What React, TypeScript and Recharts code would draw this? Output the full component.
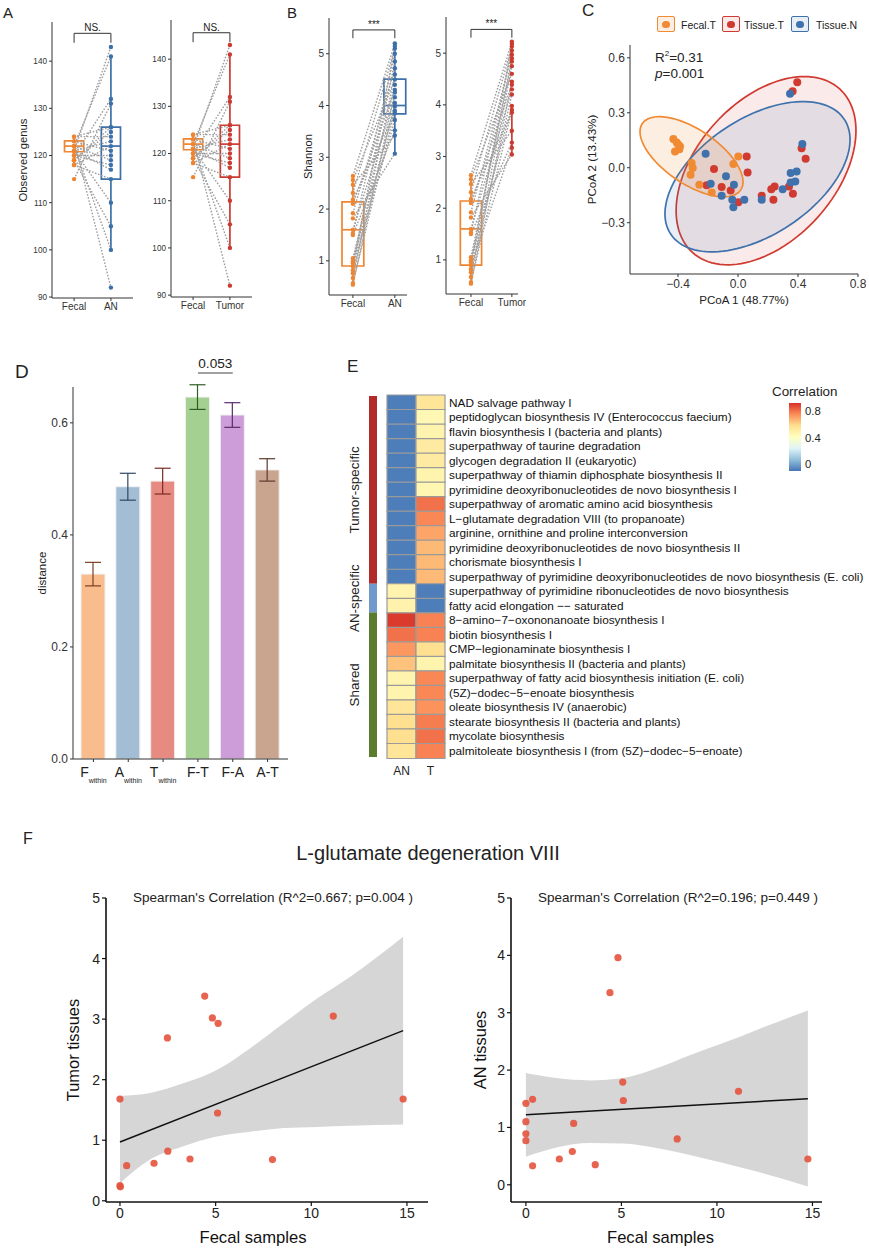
import React from "react";
import {
  ScatterChart,
  Scatter,
  XAxis,
  YAxis,
  ReferenceArea,
  ReferenceLine,
  BarChart,
  Bar,
  ErrorBar,
  ComposedChart,
  Area,
  Line,
  Cell,
} from "recharts";

const FONT = "'Liberation Sans', Arial, Helvetica, sans-serif";
const INK = "#222222";
const AXIS = "#333333";

const ORANGE = "#EE8532";
const BLUE = "#3D6FA9";
const RED = "#CB3A30";

// ---------- A: observed genus (paired) ----------
const pairAN = ["Fecal", "AN"];
const pairTumor = ["Fecal", "Tumor"];
const obsTicks = [90, 100, 110, 120, 130, 140];
const obsFecal = [121, 122, 120, 115, 124, 119, 121, 118, 122, 120, 118, 121, 119, 122, 123, 123, 120, 124, 121, 119];
const obsAN = [143, 141, 132, 131, 126, 125, 123, 122, 119, 118, 115, 110, 105, 100, 92, 121, 120, 124, 117, 126];
const obsTumor = [143, 141, 132, 131, 126, 125, 123, 122, 119, 118, 115, 110, 105, 100, 92, 121, 120, 124, 117, 126];
// whisker low, q1, median, q3, whisker high
const obsBoxFecal = [118, 120.8, 122, 123.1, 124];
const obsBoxAN = [100, 115, 122, 126, 141];
const obsBoxTumor = [100, 115, 122, 126, 141];

// ---------- B: Shannon (paired) ----------
const shTicks = [1, 2, 3, 4, 5];
const shFecal = [2.64, 2.56, 2.47, 2.31, 2.18, 2.1, 1.92, 1.82, 1.6, 1.53, 1.5, 1.05, 0.99, 0.95, 0.89, 0.82, 0.76, 0.67, 0.57, 0.54];
const shAN = [5.2, 4.5, 3.42, 5.1, 3.85, 4.3, 4.72, 3.07, 4.16, 5.0, 3.52, 4.4, 3.98, 4.85, 3.72, 5.15, 4.05, 4.6, 3.9, 4.25];
const shTumor = [5.22, 4.6, 3.5, 5.13, 3.85, 4.39, 4.97, 3.04, 4.3, 5.05, 3.27, 4.84, 3.98, 4.9, 3.17, 5.18, 4.2, 4.75, 3.9, 4.45];
const shBoxFecal = [0.54, 0.9, 1.6, 2.14, 2.64];
const shBoxAN = [3.07, 3.84, 4.0, 4.51, 5.2];
const shBoxTumor = [3.04, 3.89, 4.38, 4.88, 5.22];

// ---------- C: PCoA ----------
const pcoaFecal = [[-0.431, 0.157], [-0.409, 0.138], [-0.387, 0.117], [-0.42, 0.089], [-0.391, 0.101], [-0.4, 0.128], [-0.309, 0.026], [-0.302, -0.001], [-0.316, -0.038], [-0.258, -0.093], [-0.175, -0.135], [-0.031, 0.02], [0.002, 0.062]];
const pcoaTumor = [[0.395, 0.466], [0.364, 0.417], [0.424, 0.107], [0.451, 0.049], [0.366, -0.142], [0.34, -0.102], [0.244, -0.102], [0.222, -0.117], [0.236, -0.175], [0.158, -0.153], [0.064, -0.026], [0.058, 0.062], [0.002, -0.188], [-0.049, -0.124], [-0.109, -0.105], [-0.16, -0.007], [-0.209, -0.096]];
const pcoaNormal = [[0.347, 0.404], [0.429, 0.129], [0.351, -0.029], [0.391, -0.02], [0.382, -0.075], [0.351, -0.08], [0.298, -0.117], [0.158, -0.175], [0.042, -0.175], [-0.027, -0.093], [-0.08, -0.047], [-0.182, -0.087], [-0.216, 0.077], [-0.109, -0.153], [-0.031, -0.215], [-0.038, -0.175]];
const groupsC = ["Fecal.T", "Tissue.T", "Tissue.N"];
const colorsC = ["#F08A33", "#D03A30", "#3F72AD"];
const fillsC = ["rgba(240,138,51,0.14)", "rgba(208,58,48,0.10)", "rgba(63,114,173,0.12)"];
// confidence ellipses: centre and two conjugate semi-axes (data units)
const ellCentre = [[-0.31, 0.06], [0.187, -0.016], [0.13, -0.049]];
const ellAxisU = [[0.328, -0.181], [0.491, 0.446], [0.579, 0.313]];
const ellAxisV = [[0.101, 0.123], [-0.344, 0.255], [-0.213, 0.265]];

// ---------- D: distances ----------
const distKeys = ["F_within", "A_within", "T_within", "F-T", "F-A", "A-T"];
const distMain = ["F", "A", "T", "F-T", "F-A", "A-T"];
const distSub = ["within", "within", "within", "", "", ""];
const distMean = [0.33, 0.486, 0.496, 0.646, 0.614, 0.516];
const distErr = [0.021, 0.024, 0.023, 0.022, 0.022, 0.02];
const distFill = ["#F9BC8D", "#A3BDD5", "#E78A82", "#A4D192", "#CD9DDA", "#C9A590"];
const distErrColor = ["#7B3F22", "#2E4863", "#7A2B24", "#2F5E24", "#5B2C68", "#5C3B2C"];

// ---------- E: heatmap ----------
const pathways = [
  "NAD salvage pathway I",
  "peptidoglycan biosynthesis IV (Enterococcus faecium)",
  "flavin biosynthesis I (bacteria and plants)",
  "superpathway of taurine degradation",
  "glycogen degradation II (eukaryotic)",
  "superpathway of thiamin diphosphate biosynthesis II",
  "pyrimidine deoxyribonucleotides de novo biosynthesis I",
  "superpathway of aromatic amino acid biosynthesis",
  "L\u2212glutamate degradation VIII (to propanoate)",
  "arginine, ornithine and proline interconversion",
  "pyrimidine deoxyribonucleotides de novo biosynthesis II",
  "chorismate biosynthesis I",
  "superpathway of pyrimidine deoxyribonucleotides de novo biosynthesis (E. coli)",
  "superpathway of pyrimidine ribonucleotides de novo biosynthesis",
  "fatty acid elongation \u2212\u2212 saturated",
  "8\u2212amino\u22127\u2212oxononanoate biosynthesis I",
  "biotin biosynthesis I",
  "CMP\u2212legionaminate biosynthesis I",
  "palmitate biosynthesis II (bacteria and plants)",
  "superpathway of fatty acid biosynthesis initiation (E. coli)",
  "(5Z)\u2212dodec\u22125\u2212enoate biosynthesis",
  "oleate biosynthesis IV (anaerobic)",
  "stearate biosynthesis II (bacteria and plants)",
  "mycolate biosynthesis",
  "palmitoleate biosynthesis I (from (5Z)\u2212dodec\u22125\u2212enoate)",
];
const heatCols = ["AN", "T"];
const corrAN = [-0.08, -0.08, -0.08, -0.08, -0.08, -0.08, -0.08, -0.08, -0.08, -0.08, -0.08, -0.08, -0.08, 0.47, 0.48, 0.9, 0.8, 0.73, 0.64, 0.47, 0.47, 0.55, 0.58, 0.58, 0.55];
const corrT = [0.55, 0.45, 0.47, 0.52, 0.52, 0.47, 0.46, 0.8, 0.76, 0.7, 0.66, 0.66, 0.66, -0.08, -0.08, 0.77, 0.77, 0.58, 0.47, 0.76, 0.76, 0.74, 0.78, 0.8, 0.77];
const groupNames = ["Tumor-specific", "AN-specific", "Shared"];
const groupSizes = [13, 2, 10];
const groupColors = ["#B22A29", "#6E9BCB", "#5B7B2E"];
const rampColors = ["#4575B4", "#91BFDB", "#E0F3F8", "#FFFFBF", "#FEE090", "#FC8D59", "#D73027"];
const CORR_MIN = -0.1;
const CORR_MAX = 0.92;
const corrTicks = [0, 0.4, 0.8];

// ---------- F: correlation scatter ----------
const fecalT = [0, 0, 0.02, 0.35, 1.78, 2.5, 2.48, 3.66, 4.43, 4.83, 5.13, 5.1, 7.97, 11.15, 14.8];
const tumorT = [1.68, 0.25, 0.23, 0.58, 0.62, 0.82, 2.69, 0.69, 3.38, 3.02, 2.93, 1.45, 0.68, 3.05, 1.68];
const fitTx = [0, 14.8];
const fitTy = [0.97, 2.81];
const bandTx = [0, 1.57, 3.31, 5.06, 6.81, 8.55, 10.3, 12.04, 14.8];
const bandTlo = [0.29, 0.68, 0.9, 1.06, 1.14, 1.2, 1.22, 1.24, 1.26];
const bandThi = [1.73, 1.78, 1.94, 2.16, 2.52, 2.93, 3.34, 3.7, 4.36];

const fecalN = [0, 0, 0, 0, 0.35, 0.35, 1.75, 2.43, 2.5, 3.63, 4.4, 4.82, 5.07, 5.1, 7.92, 11.13, 14.76];
const anN = [1.42, 1.1, 0.89, 0.77, 1.49, 0.33, 0.45, 0.58, 1.07, 0.35, 3.35, 3.96, 1.79, 1.47, 0.8, 1.63, 0.45];
const fitNx = [0, 14.76];
const fitNy = [1.22, 1.5];
const bandNx = [0, 1.6, 3.35, 5.09, 6.84, 8.58, 10.33, 12.08, 14.76];
const bandNlo = [0.49, 0.65, 0.73, 0.72, 0.64, 0.52, 0.38, 0.23, -0.03];
const bandNhi = [1.95, 1.86, 1.82, 1.86, 2.03, 2.26, 2.47, 2.7, 3.04];
const fTicksX = [0, 5, 10, 15];
const fTicksY = [0, 1, 2, 3, 4, 5];

// ---------- helpers ----------
function TextAt({ x, y, size, anchor = "start", children, style }: any) {
  const tx = anchor === "middle" ? "-50%" : anchor === "end" ? "-100%" : "0";
  return (
    <div
      style={{
        position: "absolute",
        left: x,
        top: y,
        transform: `translate(${tx}, -50%)`,
        fontSize: size,
        lineHeight: 1,
        whiteSpace: "nowrap",
        color: INK,
        ...style,
      }}
    >
      {children}
    </div>
  );
}

function hexToRgb(h: string) {
  return [parseInt(h.slice(1, 3), 16), parseInt(h.slice(3, 5), 16), parseInt(h.slice(5, 7), 16)];
}

function corrColor(v: number) {
  const t = Math.max(0, Math.min(1, (v - CORR_MIN) / (CORR_MAX - CORR_MIN))) * (rampColors.length - 1);
  const i = Math.min(rampColors.length - 2, Math.floor(t));
  const f = t - i;
  const a = hexToRgb(rampColors[i]);
  const b = hexToRgb(rampColors[i + 1]);
  const c = a.map((ai, k) => Math.round(ai + (b[k] - ai) * f));
  return `rgb(${c[0]},${c[1]},${c[2]})`;
}

function ellipsePoints(k: number) {
  const pts = [];
  const [cx, cy] = ellCentre[k];
  const u = ellAxisU[k];
  const v = ellAxisV[k];
  for (let j = 0; j <= 120; j++) {
    const t = (j / 120) * Math.PI * 2;
    pts.push({ x: cx + u[0] * Math.cos(t) + v[0] * Math.sin(t), y: cy + u[1] * Math.cos(t) + v[1] * Math.sin(t) });
  }
  return pts;
}

const signed = (v: number) => (v < 0 ? "\u2212" : "") + Math.abs(v).toFixed(1);

const noShape = () => <g />;

// ---------- paired box + line panel (A, B) ----------
function PairedPanel(p: any) {
  const pairs = p.before.map((b: number, i: number) => [
    { x: 1, y: b },
    { x: 2, y: p.after[i] },
  ]);
  const boxParts = (s: number[], xc: number, color: string, key: string) => [
    <ReferenceLine key={key + "lo"} segment={[{ x: xc, y: s[0] }, { x: xc, y: s[1] }]} stroke={color} strokeWidth={1.7} />,
    <ReferenceLine key={key + "hi"} segment={[{ x: xc, y: s[3] }, { x: xc, y: s[4] }]} stroke={color} strokeWidth={1.7} />,
    <ReferenceArea key={key + "box"} x1={xc - p.boxW / 2} x2={xc + p.boxW / 2} y1={s[1]} y2={s[3]} fill="none" stroke={color} strokeWidth={1.7} />,
    <ReferenceLine key={key + "med"} segment={[{ x: xc - p.boxW / 2, y: s[2] }, { x: xc + p.boxW / 2, y: s[2] }]} stroke={color} strokeWidth={1.7} />,
  ];
  return (
    <div style={{ position: "absolute", left: p.left, top: 0 }}>
      <ScatterChart width={p.width} height={p.height} margin={{ top: p.mTop, right: p.mRight, left: 0, bottom: 0 }}>
        <XAxis
          type="number"
          dataKey="x"
          domain={p.xDomain}
          allowDataOverflow
          ticks={[1, 2]}
          interval={0}
          tickFormatter={(v: number) => p.labels[v - 1]}
          height={p.xH}
          tickSize={3}
          axisLine={{ stroke: AXIS }}
          tickLine={{ stroke: AXIS }}
          tick={{ fontSize: 10, fill: AXIS }}
        />
        <YAxis
          type="number"
          dataKey="y"
          domain={p.yDomain}
          allowDataOverflow
          ticks={p.yTicks}
          interval={0}
          width={p.yW}
          tickSize={3}
          axisLine={{ stroke: AXIS }}
          tickLine={{ stroke: AXIS }}
          tick={{ fontSize: p.tickFs, fill: AXIS }}
          label={
            p.yLabel
              ? { value: p.yLabel, angle: -90, position: "center", dx: p.yLabelDx, fontSize: p.yLabelFs, fill: INK }
              : undefined
          }
        />
        {boxParts(p.boxBefore, 1, p.cBefore, "b")}
        {boxParts(p.boxAfter, 2, p.cAfter, "a")}
        {pairs.map((pp: any, i: number) => (
          <Scatter
            key={"pair" + i}
            data={pp}
            isAnimationActive={false}
            line={{ stroke: "#9E9E9E", strokeWidth: 1.4, strokeDasharray: "1.6 1.6" }}
            lineType="joint"
            shape={noShape}
          />
        ))}
        <Scatter
          data={p.before.map((y: number) => ({ x: 1, y }))}
          isAnimationActive={false}
          shape={(s: any) => <circle cx={s.cx} cy={s.cy} r={2.2} fill={p.cBefore} />}
        />
        <Scatter
          data={p.after.map((y: number) => ({ x: 2, y }))}
          isAnimationActive={false}
          shape={(s: any) => <circle cx={s.cx} cy={s.cy} r={2.2} fill={p.cAfter} />}
        />
        <ReferenceLine
          segment={[{ x: 1, y: p.sigY }, { x: 2, y: p.sigY }]}
          stroke={AXIS}
          strokeWidth={1}
          label={{ value: p.sig, position: "top", fontSize: p.sigFs, fill: INK, offset: 2 }}
        />
        <ReferenceLine segment={[{ x: 1, y: p.sigY }, { x: 1, y: p.sigDrop }]} stroke={AXIS} strokeWidth={1} />
        <ReferenceLine segment={[{ x: 2, y: p.sigY }, { x: 2, y: p.sigDrop }]} stroke={AXIS} strokeWidth={1} />
      </ScatterChart>
    </div>
  );
}

// ---------- D tick ----------
function DistTick(props: any) {
  const { x, y, payload } = props;
  const i = distKeys.indexOf(payload.value);
  return (
    <text x={x} y={y + 13} textAnchor="middle" fontSize={14} fill={INK}>
      <tspan>{distMain[i]}</tspan>
      {distSub[i] ? (
        <tspan fontSize={7} dy={6}>
          {distSub[i]}
        </tspan>
      ) : null}
    </text>
  );
}

// ---------- E row label (no wrapping) ----------
function PathTick(props: any) {
  const { x, y, payload } = props;
  return (
    <text x={x} y={y} dy="0.36em" textAnchor="start" fontSize={11.8} fill="#111">
      {payload.value}
    </text>
  );
}

// ---------- F panel ----------
function CorrPanel(p: any) {
  const rows = p.bandX.map((x: number, i: number) => {
    const fi = p.fitX.indexOf(x);
    return { x, band: [p.bandLo[i], p.bandHi[i]], fit: fi >= 0 ? p.fitY[fi] : null };
  });
  const pts = p.xs.map((x: number, i: number) => ({ x, y: p.ys[i] }));
  return (
    <div style={{ position: "absolute", left: p.left, top: 880 }}>
      <ComposedChart width={p.width} height={368} data={rows} margin={{ top: 18, right: 8, left: 0, bottom: 0 }}>
        <XAxis
          type="number"
          dataKey="x"
          domain={p.xDomain}
          allowDataOverflow
          ticks={fTicksX}
          interval={0}
          height={46}
          tickSize={4}
          axisLine={{ stroke: "#111", strokeWidth: 1.6 }}
          tickLine={{ stroke: "#111", strokeWidth: 1.2 }}
          tick={{ fontSize: 14, fill: INK }}
          label={{ value: "Fecal samples", position: "center", dy: 12, dx: p.xLabelDx, fontSize: 16.6, fill: "#111" }}
        />
        <YAxis
          type="number"
          domain={p.yDomain}
          allowDataOverflow
          ticks={fTicksY}
          interval={0}
          width={p.yW}
          tickSize={4}
          axisLine={{ stroke: "#111", strokeWidth: 1.6 }}
          tickLine={{ stroke: "#111", strokeWidth: 1.2 }}
          tick={{ fontSize: 14, fill: INK }}
          label={{ value: p.yLabel, angle: -90, position: "center", dx: p.yLabelDx, fontSize: 16.4, fill: "#111" }}
        />
        <Area
          type="monotone"
          dataKey="band"
          fill="#D6D6D6"
          fillOpacity={1}
          stroke="none"
          isAnimationActive={false}
          connectNulls
        />
        <Line type="linear" dataKey="fit" stroke="#111" strokeWidth={1.5} dot={false} connectNulls isAnimationActive={false} />
        <Scatter
          data={pts}
          dataKey="y"
          isAnimationActive={false}
          shape={(s: any) => <circle cx={s.cx} cy={s.cy} r={3.6} fill="#E3533D" fillOpacity={0.9} />}
        />
      </ComposedChart>
    </div>
  );
}

// ---------- main ----------
export default function App() {
  const distRows = distKeys.map((k, i) => ({ key: k, ["v" + i]: distMean[i], ["e" + i]: distErr[i] }));
  const heatRows = pathways.map((name, i) => ({ name, a: 1, b: 1, an: corrAN[i], t: corrT[i] }));
  const groupRow: any = { g: "groups" };
  groupSizes.forEach((s, i) => (groupRow["s" + i] = s));
  const pcoaSets = [pcoaFecal, pcoaTumor, pcoaNormal];

  const groupLabel = (name: string) => (lp: any) => {
    const vb = lp.viewBox && lp.viewBox.height != null ? lp.viewBox : lp;
    const cx = vb.x - 14;
    const cy = vb.y + vb.height / 2;
    return (
      <text
        x={cx}
        y={cy}
        transform={`rotate(-90 ${cx} ${cy})`}
        textAnchor="middle"
        dominantBaseline="central"
        fontSize={13.4}
        fill={INK}
      >
        {name}
      </text>
    );
  };

  return (
    <div
      style={{
        position: "absolute",
        left: 0,
        top: 0,
        width: 869,
        height: 1250,
        background: "#fff",
        fontFamily: FONT,
        color: INK,
        overflow: "hidden",
      }}
    >
      {/* panel letters */}
      <TextAt x={3} y={12} size={15}>A</TextAt>
      <TextAt x={287} y={12} size={15}>B</TextAt>
      <TextAt x={582} y={10} size={17}>C</TextAt>
      <TextAt x={15} y={371} size={19}>D</TextAt>
      <TextAt x={347} y={366} size={17}>E</TextAt>
      <TextAt x={23} y={839} size={16}>F</TextAt>

      {/* A */}
      <PairedPanel
        left={0} width={140} height={325} mTop={22} mRight={7} yW={52} xH={27}
        xDomain={[0.4, 2.6]} yDomain={[89.8, 148.3]} yTicks={obsTicks} tickFs={8.2}
        before={obsFecal} after={obsAN} cBefore={ORANGE} cAfter={BLUE}
        boxBefore={obsBoxFecal} boxAfter={obsBoxAN} boxW={0.52} labels={pairAN}
        sig="NS." sigY={145.9} sigDrop={143.9} sigFs={10}
        yLabel="Observed genus" yLabelDx={-3} yLabelFs={11.3}
      />
      <PairedPanel
        left={119} width={140} height={325} mTop={20} mRight={7} yW={52} xH={28}
        xDomain={[0.4, 2.6]} yDomain={[89.6, 148.3]} yTicks={obsTicks} tickFs={8.2}
        before={obsFecal} after={obsTumor} cBefore={ORANGE} cAfter={RED}
        boxBefore={obsBoxFecal} boxAfter={obsBoxTumor} boxW={0.52} labels={pairTumor}
        sig="NS." sigY={145.6} sigDrop={143.6} sigFs={10}
      />

      {/* B */}
      <PairedPanel
        left={289} width={123} height={320} mTop={18} mRight={5} yW={40} xH={25}
        xDomain={[0.43, 2.29]} yDomain={[0.34, 5.69]} yTicks={shTicks} tickFs={10}
        before={shFecal} after={shAN} cBefore={ORANGE} cAfter={BLUE}
        boxBefore={shBoxFecal} boxAfter={shBoxAN} boxW={0.52} labels={pairAN}
        sig="***" sigY={5.46} sigDrop={5.3} sigFs={10}
        yLabel="Shannon" yLabelDx={-1} yLabelFs={11.2}
      />
      <PairedPanel
        left={416} width={127} height={320} mTop={17} mRight={25} yW={30} xH={26}
        xDomain={[0.39, 2.15]} yDomain={[0.34, 5.7]} yTicks={shTicks} tickFs={10}
        before={shFecal} after={shTumor} cBefore={ORANGE} cAfter={RED}
        boxBefore={shBoxFecal} boxAfter={shBoxTumor} boxW={0.52} labels={pairTumor}
        sig="***" sigY={5.46} sigDrop={5.3} sigFs={10}
      />

      {/* C legend */}
      {groupsC.map((g, i) => {
        const bx = [657, 722, 791][i];
        const tx = [681, 744, 816][i];
        return (
          <React.Fragment key={g}>
            <div
              style={{
                position: "absolute",
                left: bx,
                top: 16,
                width: 16,
                height: 14,
                border: `1.8px solid ${colorsC[i]}`,
                borderRadius: 2,
                background: fillsC[i],
              }}
            >
              <div
                style={{
                  position: "absolute",
                  left: 4,
                  top: 3.5,
                  width: 7.5,
                  height: 7.5,
                  borderRadius: "50%",
                  background: colorsC[i],
                }}
              />
            </div>
            <TextAt x={tx} y={25} size={10.5}>{g}</TextAt>
          </React.Fragment>
        );
      })}
      <TextAt x={655} y={57} size={13.5}>
        R<sup style={{ fontSize: 8, verticalAlign: "6px" }}>2</sup>=0.31
      </TextAt>
      <TextAt x={655} y={74} size={13.5}>
        <i>p</i>=0.001
      </TextAt>

      {/* C */}
      <div style={{ position: "absolute", left: 585, top: 0 }}>
        <ScatterChart width={281} height={306} margin={{ top: 45, right: 8, left: 0, bottom: 0 }}>
          <XAxis
            type="number"
            dataKey="x"
            domain={[-0.72, 0.8]}
            allowDataOverflow
            ticks={[-0.4, 0, 0.4, 0.8]}
            interval={0}
            tickFormatter={signed}
            height={32}
            tickSize={3}
            axisLine={{ stroke: AXIS }}
            tickLine={{ stroke: AXIS }}
            tick={{ fontSize: 12, fill: AXIS }}
            label={{ value: "PCoA 1 (48.77%)", position: "center", dy: 10, fontSize: 11.6, fill: INK }}
          />
          <YAxis
            type="number"
            dataKey="y"
            domain={[-0.58, 0.67]}
            allowDataOverflow
            ticks={[-0.3, 0, 0.3, 0.6]}
            interval={0}
            tickFormatter={signed}
            width={45}
            tickSize={3}
            axisLine={{ stroke: AXIS }}
            tickLine={{ stroke: AXIS }}
            tick={{ fontSize: 12, fill: AXIS }}
            label={{ value: "PCoA 2 (13.43%)", angle: -90, position: "center", dx: -15.5, fontSize: 11.6, fill: INK }}
          />
          {[1, 2, 0].map((k) => (
            <Scatter
              key={"ell" + k}
              data={ellipsePoints(k)}
              isAnimationActive={false}
              line={{ stroke: colorsC[k], strokeWidth: 1.7, fill: fillsC[k] }}
              lineType="joint"
              shape={noShape}
            />
          ))}
          {[1, 2, 0].map((k) => (
            <Scatter
              key={"pts" + k}
              data={pcoaSets[k].map(([x, y]) => ({ x, y }))}
              isAnimationActive={false}
              shape={(s: any) => <circle cx={s.cx} cy={s.cy} r={4} fill={colorsC[k]} />}
            />
          ))}
        </ScatterChart>
      </div>

      {/* D */}
      <div style={{ position: "absolute", left: 28, top: 330 }}>
        <BarChart width={270} height={459} data={distRows} margin={{ top: 57, right: 10, left: 0, bottom: 0 }} barSize={24}>
          <XAxis
            dataKey="key"
            type="category"
            height={30}
            interval={0}
            padding={{ left: 3, right: 3 }}
            tickSize={3}
            axisLine={{ stroke: AXIS }}
            tickLine={{ stroke: AXIS }}
            tick={<DistTick />}
          />
          <YAxis
            type="number"
            domain={[0, 0.664]}
            allowDataOverflow
            ticks={[0, 0.2, 0.4, 0.6]}
            interval={0}
            tickFormatter={(v: number) => v.toFixed(1)}
            width={45}
            tickSize={3}
            axisLine={{ stroke: AXIS }}
            tickLine={{ stroke: AXIS }}
            tick={{ fontSize: 12, fill: AXIS }}
            label={{ value: "distance", angle: -90, position: "center", dx: -8.5, fontSize: 11.5, fill: INK }}
          />
          {distKeys.map((k, i) => (
            <Bar key={k} dataKey={"v" + i} stackId="d" fill={distFill[i]} stroke="#F0F0F0" strokeWidth={1} isAnimationActive={false}>
              <ErrorBar dataKey={"e" + i} width={8} stroke={distErrColor[i]} strokeWidth={1.2} direction="y" />
            </Bar>
          ))}
          <ReferenceLine
            segment={[{ x: "F-T", y: 0.689 }, { x: "F-A", y: 0.689 }]}
            stroke="#444"
            strokeWidth={1.2}
            ifOverflow="visible"
            label={{ value: "0.053", position: "top", fontSize: 13.6, fill: INK, offset: 5 }}
          />
        </BarChart>
      </div>

      {/* E group strip */}
      <div style={{ position: "absolute", left: 340, top: 391 }}>
        <BarChart width={40} height={371} data={[groupRow]} margin={{ top: 5, right: 3, left: 29, bottom: 5 }} barCategoryGap={0}>
          <XAxis dataKey="g" hide />
          <YAxis hide reversed domain={[0, 25]} allowDataOverflow />
          {groupNames.map((n, i) => (
            <Bar key={n} dataKey={"s" + i} stackId="g" fill={groupColors[i]} isAnimationActive={false} label={groupLabel(n)} />
          ))}
        </BarChart>
      </div>

      {/* E heatmap */}
      <div style={{ position: "absolute", left: 380, top: 390 }}>
        <BarChart
          layout="vertical"
          width={485}
          height={388}
          data={heatRows}
          margin={{ top: 5, right: 0, left: 7, bottom: 0 }}
          barCategoryGap={0}
        >
          <XAxis
            type="number"
            domain={[0, 2]}
            ticks={[0.5, 1.5]}
            interval={0}
            tickFormatter={(v: number) => (v < 1 ? heatCols[0] : heatCols[1])}
            axisLine={false}
            tickLine={false}
            height={20}
            tick={{ fontSize: 12, fill: INK }}
          />
          <YAxis
            type="category"
            dataKey="name"
            orientation="right"
            width={420}
            interval={0}
            axisLine={false}
            tickLine={false}
            tickSize={2}
            tickMargin={2}
            tick={<PathTick />}
          />
          <Bar dataKey="a" stackId="h" stroke="#9A9A9A" strokeWidth={1.2} isAnimationActive={false}>
            {heatRows.map((r, i) => (
              <Cell key={"an" + i} fill={corrColor(r.an)} />
            ))}
          </Bar>
          <Bar dataKey="b" stackId="h" stroke="#9A9A9A" strokeWidth={1.2} isAnimationActive={false}>
            {heatRows.map((r, i) => (
              <Cell key={"t" + i} fill={corrColor(r.t)} />
            ))}
          </Bar>
        </BarChart>
      </div>

      {/* E colour bar */}
      <TextAt x={772} y={392} size={13.4}>Correlation</TextAt>
      <div style={{ position: "absolute", left: 785, top: 398 }}>
        <BarChart width={60} height={78} data={[{ k: "c", r: [CORR_MIN, CORR_MAX] }]} margin={{ top: 5, right: 0, left: 4, bottom: 5 }} barCategoryGap={0}>
          <defs>
            <linearGradient id="corrGrad" x1="0" y1="1" x2="0" y2="0">
              {rampColors.map((c, i) => (
                <stop key={c} offset={`${(i / (rampColors.length - 1)) * 100}%`} stopColor={c} />
              ))}
            </linearGradient>
          </defs>
          <XAxis dataKey="k" hide />
          <YAxis
            orientation="right"
            type="number"
            domain={[CORR_MIN, CORR_MAX]}
            allowDataOverflow
            ticks={corrTicks}
            interval={0}
            tickFormatter={(v: number) => String(v)}
            width={44}
            axisLine={false}
            tickLine={false}
            tickSize={2}
            tickMargin={2}
            tick={{ fontSize: 11.3, fill: INK }}
          />
          <Bar dataKey="r" fill="url(#corrGrad)" isAnimationActive={false} />
        </BarChart>
      </div>

      {/* F */}
      <TextAt x={428} y={853} size={20} anchor="middle">L-glutamate degeneration VIII</TextAt>
      <TextAt x={273} y={898} size={13.5} anchor="middle">
        Spearman's Correlation (R^2=0.667; p=0.004 )
      </TextAt>
      <TextAt x={678} y={898} size={13.5} anchor="middle">
        Spearman's Correlation (R^2=0.196; p=0.449 )
      </TextAt>
      <CorrPanel
        left={56} width={380} yW={50} xDomain={[-0.73, 16.1]} yDomain={[-0.02, 5]}
        xs={fecalT} ys={tumorT} fitX={fitTx} fitY={fitTy}
        bandX={bandTx} bandLo={bandTlo} bandHi={bandThi}
        yLabel="Tumor tissues" yLabelDx={-8} xLabelDx={-14}
      />
      <CorrPanel
        left={466} width={364} yW={45} xDomain={[-0.78, 15.5]} yDomain={[-0.3, 5]}
        xs={fecalN} ys={anN} fitX={fitNx} fitY={fitNy}
        bandX={bandNx} bandLo={bandNlo} bandHi={bandNhi}
        yLabel="AN tissues" yLabelDx={-8.5} xLabelDx={-6}
      />
    </div>
  );
}
